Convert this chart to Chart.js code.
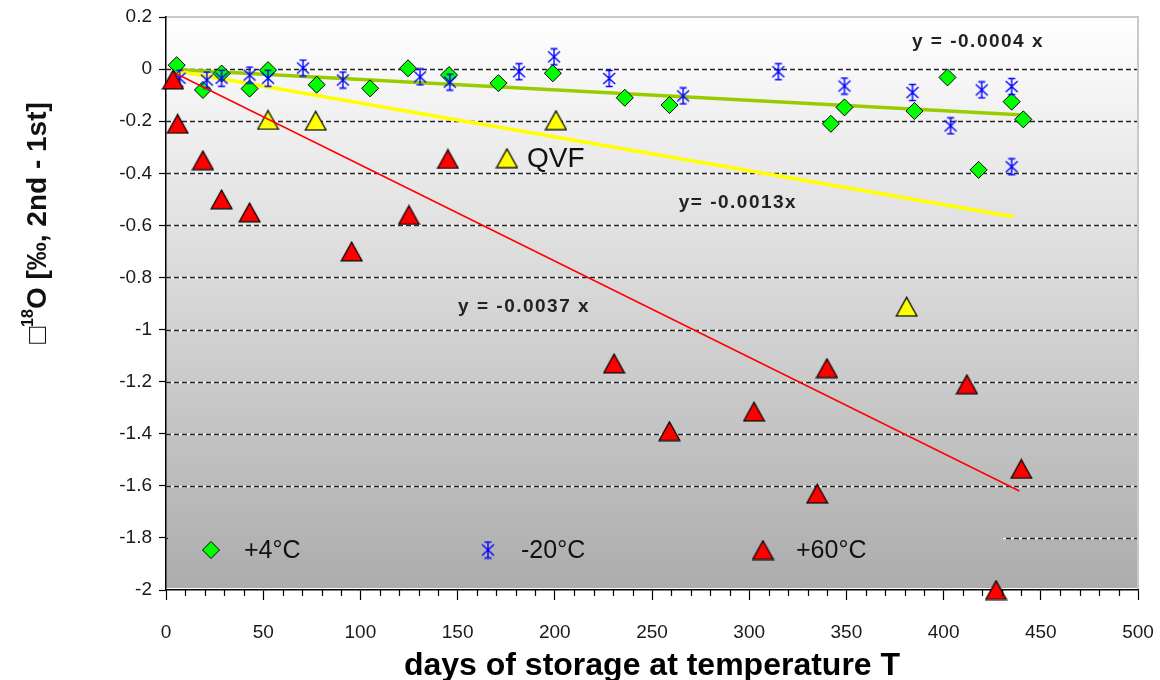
<!DOCTYPE html>
<html>
<head>
<meta charset="utf-8">
<script src="https://cdn.jsdelivr.net/npm/chart.js@4.4.0/dist/chart.umd.min.js"></script>
<style>
  html, body { margin: 0; padding: 0; background: #fff; }
  #wrap { width: 1160px; height: 680px; }
</style>
</head>
<body>
<div id="wrap"><canvas id="isoChart" width="1160" height="680"></canvas></div>
<script>
// +4°C samples (days, delta)
const days4 = [5.5, 19, 28.6, 43, 52.5, 77.5, 105, 124.5, 145.6, 171, 199, 236, 259, 342, 349, 385, 402, 418, 435, 441];
const vals4 = [0.015, -0.08, -0.017, -0.075, -0.004, -0.06, -0.074, 0.003, -0.023, -0.054, -0.016, -0.11, -0.138, -0.21, -0.147, -0.161, -0.032, -0.387, -0.125, -0.193];

// -20°C samples
const days20 = [7, 21, 28.6, 43, 52.5, 70.5, 91, 130.7, 146, 181.6, 199.6, 228, 266, 315, 349, 384, 403.6, 419.6, 435, 435];
const vals20 = [-0.035, -0.042, -0.035, -0.023, -0.035, 0.004, -0.042, -0.03, -0.05, -0.01, 0.047, -0.036, -0.103, -0.01, -0.065, -0.09, -0.218, -0.08, -0.067, -0.375];

// +60°C samples
const days60 = [3.6, 6, 19, 28.6, 43, 95.5, 125, 145, 230.5, 259, 302.5, 335, 340, 412, 427, 440];
const vals60 = [-0.04, -0.21, -0.35, -0.5, -0.55, -0.7, -0.56, -0.345, -1.13, -1.39, -1.315, -1.63, -1.148, -1.21, -2.0, -1.535];

// QVF samples
const daysQ = [52.5, 77, 200.6, 381];
const valsQ = [-0.195, -0.198, -0.196, -0.912];

// trend line end points
const trend4X = [4.5, 441];
const trend4Y = [-0.002, -0.176];
const trendQX = [4.5, 436];
const trendQY = [-0.006, -0.567];
const trend60X = [4.5, 439];
const trend60Y = [-0.015, -1.62];

// equation labels: text, x, y (data units)
const eqTexts = ["y = -0.0004 x", "y= -0.0013x", "y = -0.0037 x"];
const eqX = [417.7, 294.2, 184.2];
const eqY = [0.104, -0.514, -0.913];

const xTicksStep = 50;
const yTicksStep = 0.2;
const legendLabels = ["+4°C", "-20°C", "+60°C"];

const FONT = "'Liberation Sans', Arial, sans-serif";

function toPoints(xs, ys) {
  return xs.map((x, i) => ({ x: x, y: ys[i] }));
}

// Excel style marker images
function makeStar(color) {
  const c = document.createElement("canvas");
  c.width = 16; c.height = 19;
  const g = c.getContext("2d");
  g.strokeStyle = color;
  g.lineWidth = 1.4;
  g.beginPath();
  g.moveTo(8, 1.5); g.lineTo(8, 17.5);
  g.moveTo(2, 4); g.lineTo(14, 15);
  g.moveTo(14, 4); g.lineTo(2, 15);
  g.moveTo(4.5, 1.5); g.lineTo(11.5, 1.5);
  g.moveTo(4.5, 17.5); g.lineTo(11.5, 17.5);
  g.stroke();
  return c;
}

function makeTri(fill) {
  const c = document.createElement("canvas");
  c.width = 23; c.height = 21;
  const g = c.getContext("2d");
  g.beginPath();
  g.moveTo(11.5, 1.2);
  g.lineTo(21.8, 19.8);
  g.lineTo(1.2, 19.8);
  g.closePath();
  g.fillStyle = fill;
  g.fill();
  g.strokeStyle = "#000";
  g.lineWidth = 1.3;
  g.stroke();
  return c;
}

const starImg = makeStar("#0000ff");
const redTri = makeTri("#ff0000");
const yelTri = makeTri("#ffff00");

function plotGradient(ctx, area) {
  const grad = ctx.createLinearGradient(0, area.top, 0, area.bottom);
  grad.addColorStop(0, "#ffffff");
  grad.addColorStop(1, "#acacac");
  return grad;
}

const decorPlugin = {
  id: "decor",
  beforeDraw(chart) {
    const { ctx, chartArea: a } = chart;
    ctx.save();
    ctx.fillStyle = "#fff";
    ctx.fillRect(0, 0, chart.width, chart.height);
    ctx.fillStyle = plotGradient(ctx, a);
    ctx.fillRect(a.left, a.top, a.right - a.left, a.bottom - a.top - 2);
    ctx.strokeStyle = "#c8c8c8";
    ctx.lineWidth = 2;
    ctx.beginPath();
    ctx.moveTo(a.left, a.top);
    ctx.lineTo(a.right, a.top);
    ctx.lineTo(a.right, a.bottom);
    ctx.stroke();
    ctx.restore();
  },
  beforeDatasetsDraw(chart) {
    const { ctx, chartArea: a, scales } = chart;
    const y = scales.y;
    ctx.save();
    // dashed gridlines
    y.ticks.forEach(t => {
      if (t.value <= y.min || t.value >= y.max) return;
      const py = Math.round(y.getPixelForValue(t.value)) + 0.5;
      ctx.setLineDash([]);
      ctx.strokeStyle = "rgba(255,255,255,0.9)";
      ctx.lineWidth = 1.5;
      ctx.beginPath(); ctx.moveTo(a.left, py); ctx.lineTo(a.right - 1, py); ctx.stroke();
      ctx.setLineDash([5, 3]);
      ctx.strokeStyle = "#222";
      ctx.beginPath(); ctx.moveTo(a.left, py); ctx.lineTo(a.right - 1, py); ctx.stroke();
    });
    ctx.setLineDash([]);

    // legend box inside the plot
    const lx = a.left + 2, ly = a.bottom - 68, lw = 835, lh = 56;
    ctx.fillStyle = plotGradient(ctx, a);
    ctx.fillRect(lx, ly, lw, lh);
    const cy = ly + 28;
    const styles = [
      { pointStyle: "rectRot", radius: 8.5, borderWidth: 1, backgroundColor: "#00ff00", borderColor: "#000" },
      { pointStyle: starImg, radius: 9 },
      { pointStyle: redTri, radius: 10 }
    ];
    const mx = [211, 488, 763];
    styles.forEach((s, i) => {
      ctx.fillStyle = s.backgroundColor || "#000";
      ctx.strokeStyle = s.borderColor || "#000";
      ctx.lineWidth = s.borderWidth || 1;
      Chart.helpers.drawPoint(ctx, { pointStyle: s.pointStyle, radius: s.radius, borderWidth: s.borderWidth || 1, rotation: 0 }, mx[i], cy);
      ctx.fillStyle = "#111";
      ctx.font = "25px " + FONT;
      ctx.textBaseline = "middle";
      ctx.textAlign = "left";
      ctx.fillText(legendLabels[i], mx[i] + 33, cy + 1);
    });
    ctx.restore();
  },
  afterDatasetsDraw(chart) {
    const { ctx, scales } = chart;
    const x = scales.x, y = scales.y;
    ctx.save();
    ctx.fillStyle = "#222";
    ctx.textAlign = "center";
    ctx.textBaseline = "middle";
    ctx.font = "bold 19px " + FONT;
    if ("letterSpacing" in ctx) ctx.letterSpacing = "1.5px";
    eqTexts.forEach((t, i) => {
      ctx.fillText(t, x.getPixelForValue(eqX[i]), y.getPixelForValue(eqY[i]));
    });
    if ("letterSpacing" in ctx) ctx.letterSpacing = "0px";
    // QVF key
    Chart.helpers.drawPoint(ctx, { pointStyle: yelTri, radius: 10, rotation: 0 }, x.getPixelForValue(175.4), y.getPixelForValue(-0.342));
    ctx.fillStyle = "#111";
    ctx.textAlign = "left";
    ctx.font = "28px " + FONT;
    ctx.fillText("QVF", x.getPixelForValue(185.7), y.getPixelForValue(-0.342) + 1);
    ctx.restore();
  },
  afterDraw(chart) {
    const { ctx, chartArea: a, scales } = chart;
    const x = scales.x;
    ctx.save();
    // minor ticks on the x axis
    ctx.strokeStyle = "#000";
    ctx.lineWidth = 1.2;
    ctx.beginPath();
    for (let v = x.min; v <= x.max; v += 10) {
      if (v % xTicksStep === 0) continue;
      const px = Math.round(x.getPixelForValue(v)) + 0.5;
      ctx.moveTo(px, a.bottom);
      ctx.lineTo(px, a.bottom + 6);
    }
    ctx.stroke();

    // y axis title with superscript
    ctx.translate(36, 223);
    ctx.rotate(-Math.PI / 2);
    ctx.fillStyle = "#111";
    ctx.textBaseline = "alphabetic";
    const big = "bold 28px " + FONT, small = "bold 16px " + FONT;
    ctx.font = big;
    const w1 = ctx.measureText("\u25A1").width;
    const w3 = ctx.measureText("O [‰, 2nd - 1st]").width;
    ctx.font = small;
    const w2 = ctx.measureText("18").width;
    let cx = -(w1 + w2 + w3) / 2;
    ctx.font = big;
    ctx.fillText("\u25A1", cx, 10); cx += w1;
    ctx.font = small;
    ctx.fillText("18", cx, -3); cx += w2;
    ctx.font = big;
    ctx.fillText("O [‰, 2nd - 1st]", cx, 10);
    ctx.restore();
  }
};

const ctx = document.getElementById("isoChart").getContext("2d");
new Chart(ctx, {
  type: "scatter",
  data: {
    datasets: [
      {
        label: "trend +60",
        data: toPoints(trend60X, trend60Y),
        showLine: true, pointRadius: 0, borderColor: "#ff0000", borderWidth: 1.5
      },
      {
        label: "+60°C",
        data: toPoints(days60, vals60),
        pointStyle: redTri, pointRadius: 10, clip: false
      },
      {
        label: "QVF",
        data: toPoints(daysQ, valsQ),
        pointStyle: yelTri, pointRadius: 10, clip: false
      },
      {
        label: "-20°C",
        data: toPoints(days20, vals20),
        pointStyle: starImg, pointRadius: 9, clip: false
      },
      {
        label: "+4°C",
        data: toPoints(days4, vals4),
        pointStyle: "rectRot", pointRadius: 8.5, backgroundColor: "#00ff00", borderColor: "#000", borderWidth: 1, clip: false
      },
      {
        label: "trend QVF",
        data: toPoints(trendQX, trendQY),
        showLine: true, pointRadius: 0, borderColor: "#ffff00", borderWidth: 3.5
      },
      {
        label: "trend +4",
        data: toPoints(trend4X, trend4Y),
        showLine: true, pointRadius: 0, borderColor: "#99cc00", borderWidth: 3.5
      }
    ]
  },
  options: {
    responsive: false,
    animation: false,
    events: [],
    layout: { padding: { left: 0, right: 22, top: 17, bottom: 0 } },
    plugins: {
      legend: { display: false },
      tooltip: { enabled: false }
    },
    scales: {
      x: {
        type: "linear",
        min: 0,
        max: 500,
        ticks: {
          stepSize: xTicksStep,
          color: "#1a1a1a",
          font: { family: FONT, size: 19 },
          padding: 21,
          maxRotation: 0
        },
        grid: { drawOnChartArea: false, tickLength: 10, tickColor: "#000", tickWidth: 1.2 },
        border: { color: "#000", width: 1.5 },
        title: {
          display: true,
          text: "days of storage at temperature T",
          color: "#000",
          font: { family: FONT, size: 32, weight: "bold" },
          padding: { top: 0, bottom: -5 }
        },
        afterFit: s => { s.height = 90; s.paddingLeft = 0; s.paddingRight = 0; }
      },
      y: {
        type: "linear",
        min: -2,
        max: 0.2,
        ticks: {
          stepSize: yTicksStep,
          color: "#1a1a1a",
          font: { family: FONT, size: 19 },
          padding: 7,
          callback: v => (Math.round(v * 10) / 10).toString()
        },
        grid: { drawOnChartArea: false, tickLength: 7, tickColor: "#000", tickWidth: 1.2 },
        border: { color: "#000", width: 1.5 },
        afterFit: s => { s.width = 166; s.paddingTop = 0; s.paddingBottom = 0; }
      }
    }
  },
  plugins: [decorPlugin]
});
</script>
</body>
</html>
